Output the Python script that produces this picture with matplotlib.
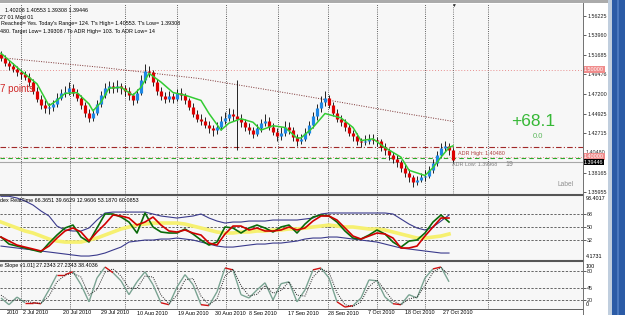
import matplotlib
matplotlib.use("Agg")
import matplotlib.pyplot as plt
from matplotlib.collections import LineCollection
from matplotlib.lines import Line2D
from matplotlib.patches import Rectangle
import matplotlib.transforms as mtrans
import numpy as np

plt.rcParams['font.family'] = ['Liberation Sans', 'DejaVu Sans']

W, H = 625, 315

# ---- price bars (daily, Heiken Ashi style) ----
first_open = 1.518
closes = [1.514, 1.508, 1.504, 1.501, 1.497, 1.495, 1.492, 1.486, 1.476, 1.467,
          1.460, 1.456, 1.457, 1.461, 1.468, 1.473, 1.475, 1.479, 1.474, 1.468,
          1.460, 1.451, 1.445, 1.451, 1.461, 1.471, 1.479, 1.481, 1.479, 1.481,
          1.479, 1.476, 1.471, 1.465, 1.474, 1.488, 1.499, 1.497, 1.486, 1.476,
          1.470, 1.467, 1.470, 1.467, 1.473, 1.471, 1.465, 1.458, 1.450, 1.444,
          1.442, 1.437, 1.433, 1.431, 1.435, 1.442, 1.445, 1.449, 1.447, 1.444,
          1.440, 1.435, 1.431, 1.427, 1.433, 1.439, 1.442, 1.435, 1.429, 1.424,
          1.428, 1.435, 1.431, 1.423, 1.419, 1.421, 1.428, 1.437, 1.447, 1.456,
          1.463, 1.468, 1.460, 1.451, 1.444, 1.440, 1.435, 1.428, 1.424, 1.419,
          1.417, 1.419, 1.421, 1.420, 1.418, 1.412, 1.408, 1.402, 1.398, 1.394,
          1.388, 1.382, 1.377, 1.372, 1.374, 1.377, 1.379, 1.385, 1.393, 1.402,
          1.411, 1.413, 1.408, 1.397]
highs = [1.522, 1.517, 1.511, 1.508, 1.504, 1.501, 1.499, 1.496, 1.489, 1.480,
         1.471, 1.466, 1.462, 1.466, 1.473, 1.478, 1.482, 1.486, 1.484, 1.478,
         1.471, 1.463, 1.455, 1.455, 1.465, 1.476, 1.485, 1.487, 1.486, 1.488,
         1.485, 1.483, 1.480, 1.474, 1.478, 1.494, 1.507, 1.504, 1.500, 1.489,
         1.480, 1.475, 1.476, 1.474, 1.478, 1.479, 1.474, 1.468, 1.462, 1.454,
         1.449, 1.446, 1.441, 1.437, 1.440, 1.447, 1.452, 1.456, 1.455, 1.488,
         1.449, 1.444, 1.439, 1.435, 1.438, 1.444, 1.450, 1.446, 1.439, 1.433,
         1.434, 1.442, 1.440, 1.434, 1.427, 1.427, 1.433, 1.442, 1.452, 1.461,
         1.470, 1.476, 1.471, 1.463, 1.455, 1.448, 1.444, 1.438, 1.431, 1.428,
         1.422, 1.425, 1.426, 1.427, 1.423, 1.421, 1.416, 1.411, 1.406, 1.402,
         1.397, 1.392, 1.386, 1.380, 1.378, 1.382, 1.385, 1.390, 1.398, 1.407,
         1.416, 1.419, 1.416, 1.410]
lows = [1.510, 1.504, 1.500, 1.497, 1.493, 1.490, 1.488, 1.481, 1.472, 1.463,
        1.455, 1.451, 1.450, 1.453, 1.458, 1.465, 1.469, 1.471, 1.470, 1.464,
        1.455, 1.446, 1.440, 1.442, 1.448, 1.458, 1.468, 1.474, 1.473, 1.475,
        1.472, 1.470, 1.466, 1.460, 1.462, 1.471, 1.485, 1.492, 1.482, 1.471,
        1.465, 1.462, 1.463, 1.462, 1.464, 1.466, 1.461, 1.454, 1.446, 1.440,
        1.437, 1.433, 1.428, 1.424, 1.427, 1.431, 1.438, 1.441, 1.442, 1.408,
        1.435, 1.430, 1.426, 1.422, 1.424, 1.429, 1.436, 1.431, 1.425, 1.419,
        1.420, 1.424, 1.426, 1.418, 1.413, 1.415, 1.418, 1.425, 1.433, 1.443,
        1.452, 1.459, 1.456, 1.447, 1.440, 1.436, 1.430, 1.424, 1.419, 1.414,
        1.412, 1.414, 1.415, 1.415, 1.413, 1.407, 1.403, 1.397, 1.393, 1.389,
        1.383, 1.377, 1.371, 1.366, 1.368, 1.371, 1.373, 1.376, 1.382, 1.390,
        1.399, 1.407, 1.403, 1.393]

# green trailing line
ma_idx = [0, 5, 9, 12, 14, 16, 19, 22, 23, 25, 27, 30, 33, 35, 37, 40, 43, 46, 50, 52,
          55, 57, 60, 63, 65, 68, 71, 74, 75, 78, 81, 85, 88, 90, 93, 96, 100, 102, 106,
          108, 110, 112, 113]
ma_val = [1.519, 1.499, 1.484, 1.459, 1.465, 1.473, 1.474, 1.461, 1.453, 1.463, 1.479,
          1.480, 1.471, 1.480, 1.496, 1.486, 1.474, 1.471, 1.465, 1.450, 1.431, 1.439,
          1.444, 1.440, 1.431, 1.436, 1.434, 1.422, 1.422, 1.434, 1.450, 1.445, 1.434,
          1.419, 1.421, 1.411, 1.400, 1.385, 1.379, 1.388, 1.400, 1.411, 1.413]

# dotted long-period line
trend_idx = [-0.25, 24.75, 49.75, 74.75, 99.75, 113]
trend_val = [1.514, 1.503, 1.490, 1.471, 1.451, 1.441]

# ---- RSI panel (every 2nd bar) ----
rsi_upper = [93, 93, 90.6, 86.4, 80.8, 72.5, 65.5, 51.5, 46, 44.6,
             44.6, 48.8, 59.9, 69.7, 71, 71, 71, 71, 71, 68.3,
             65.5, 64.1, 62.7, 64.1, 65.5, 68.3, 62.7, 58.5, 55.7, 57.1,
             57.1, 58.5, 58.5, 58.5, 59.9, 59.9, 59.9, 59.9, 61.3, 62.7,
             68.3, 69.7, 69.7, 69.7, 69.7, 69.7, 69.7, 69.7, 69.7, 68.3,
             61.3, 54.3, 48.8, 46, 50.2, 58.5, 66.9]
rsi_lower = [23.6, 22.2, 20.9, 19.5, 18.1, 16.7, 15.3, 13.9, 12.5, 11.1,
             9.7, 9.7, 11.1, 13.9, 18.1, 22.2, 29.2, 30.6, 32, 32,
             33.4, 33.4, 34.8, 33.4, 32, 29.2, 26.4, 23.6, 22.2, 22.2,
             23.6, 25, 26.4, 26.4, 27.8, 27.8, 29.2, 30.6, 33.4, 34.8,
             34.8, 36.2, 36.2, 34.8, 33.4, 32, 30.6, 29.2, 26.4, 23.6,
             20.9, 19.5, 18.1, 16.7, 15.3, 13.9, 13.9]
rsi_mid = [57.1, 52.9, 48.8, 44.6, 41.8, 37.6, 33.4, 30.6, 29.2, 29.2,
           29.2, 32, 34.8, 39, 43.2, 47.4, 50.2, 52.9, 54.3, 55.7,
           55.7, 55.7, 55.7, 54.3, 51.5, 48.8, 46, 43.2, 41.8, 41.8,
           43.2, 43.2, 44.6, 44.6, 46, 46, 47.4, 47.4, 48.8, 50.2,
           51.5, 52.9, 51.5, 50.2, 50.2, 48.8, 47.4, 47.4, 46, 43.2,
           40.4, 37.6, 34.8, 34.8, 36.2, 37.6, 40.4]
rsi_fast = [36.2, 26.4, 23.6, 20.9, 18.1, 15.3, 27.8, 39, 48.8, 52.9,
            36.2, 29.2, 48.8, 68.3, 68.3, 64.1, 57.1, 41.8, 69.7, 50.2,
            43.2, 41.8, 41.8, 47.4, 40.4, 32, 25, 29.2, 50.2, 48.8,
            41.8, 48.8, 52.9, 48.8, 43.2, 50.2, 52.9, 41.8, 54.3, 64.1,
            66.9, 65.5, 57.1, 44.6, 34.8, 33.4, 39, 46, 40.4, 29.2,
            22.2, 30.6, 32, 41.8, 57.1, 66.9, 57.1]
rsi_slow = [36.2, 30.6, 25, 22.2, 19.5, 16.7, 23.6, 34.8, 44.6, 48.8,
            43.2, 30.6, 43.2, 54.3, 66.9, 65.5, 62.7, 52.9, 57.1, 64.1,
            52.9, 44.6, 43.2, 46, 41.8, 39, 27.8, 25, 40.4, 51.5,
            51.5, 46, 48.8, 44.6, 44.6, 46, 50.2, 46, 48.8, 58.5,
            65.5, 65.5, 59.9, 48.8, 37.6, 33.4, 37.6, 41.8, 40.4, 34.8,
            20.9, 20.9, 23.6, 37.6, 50.2, 62.7, 62.7]

# ---- slope panel (every 2nd bar) ----
slope_main = [24, 10, 26, 14, 14, 12, 41, 73, 73, 79,
              52, 16, 66, 89, 77, 60, 31, 58, 79, 52,
              14, 10, 47, 73, 52, 10, 8, 37, 87, 83,
              31, 24, 41, 56, 20, 54, 58, 16, 41, 83,
              87, 66, 16, 5, 8, 24, 62, 60, 26, 12,
              10, 31, 24, 66, 85, 89, 58]
slope_signal = [30, 18, 20, 18, 14, 13, 28, 58, 72, 76,
                68, 30, 42, 78, 85, 70, 45, 44, 70, 68,
                30, 12, 30, 62, 65, 28, 10, 22, 70, 85,
                50, 28, 32, 50, 34, 40, 58, 30, 28, 68,
                85, 78, 35, 10, 6, 16, 48, 62, 40, 18,
                10, 22, 26, 50, 78, 88, 72]

price_ticks = [1.56225, 1.53960, 1.51685, 1.49476, 1.47200, 1.44925, 1.42715, 1.38165, 1.35955]
date_labels = ["2010", "2 Jul 2010", "20 Jul 2010", "29 Jul 2010", "10 Aug 2010",
               "19 Aug 2010", "30 Aug 2010", "8 Sep 2010", "17 Sep 2010", "28 Sep 2010",
               "7 Oct 2010", "18 Oct 2010", "27 Oct 2010"]
date_px = [7, 23, 63, 101, 137, 178, 215, 249, 288, 328, 368, 405, 443]
grid_px = [21, 70, 125, 177, 226, 278, 328, 377, 425, 488]

fig = plt.figure(figsize=(W / 100, H / 100), dpi=100)
fig.patch.set_facecolor('white')


def box(x0, y0, x1, y1):
    return [x0 / W, 1 - y1 / H, (x1 - x0) / W, (y1 - y0) / H]


def ftext(x, y, s, **kw):
    kw.setdefault('fontsize', 3.9)
    kw.setdefault('va', 'center')
    fig.text(x / W, 1 - y / H, s, **kw)


def fline(x0, y0, x1, y1, **kw):
    fig.add_artist(Line2D([x0 / W, x1 / W], [1 - y0 / H, 1 - y1 / H], **kw))


def px_to_idx(x):
    return (x - 1) / 4.0


ax = fig.add_axes(box(0, 4, 583, 194))
ax1 = fig.add_axes(box(0, 196, 583, 260))
ax2 = fig.add_axes(box(0, 262, 583, 308.5))

for a in (ax, ax1, ax2):
    a.set_facecolor('#F7F7F7')
    a.set_xlim(-0.25, 145.5)
    a.set_xticks([])
    for s in a.spines.values():
        s.set_visible(False)
    for gx in grid_px:
        a.axvline(px_to_idx(gx), color='#303030', ls=(0, (1, 1.6)), lw=0.6, zorder=1)

ax.set_ylim(1.35783, 1.57542)
ax1.set_ylim(4.1731, 93.4017)
ax2.set_ylim(2.0, 99.5)

# ---- main panel ----
idx = np.arange(len(closes))
opens = [first_open] + closes[:-1]
body_col = ['#1E88E5' if c >= o else '#DD0000' for o, c in zip(opens, closes)]
ax.axhline(1.5, color='#E89090', ls=(0, (1, 2)), lw=0.7, zorder=1)
ax.axhline(1.4115, color='#A02828', ls=(0, (5, 2, 1, 2)), lw=0.8, zorder=1)
ax.axhline(1.4000, color='#E89090', ls=(0, (1, 2)), lw=0.7, zorder=1)
ax.axhline(1.3985, color='#2AA82A', ls=(0, (4, 3)), lw=0.8, zorder=1)
ax.axhline(1.39446, color='#A8A8A8', lw=0.8, zorder=1)
ax.axvline(113, color='#505050', ls=(0, (1, 1.6)), lw=0.6, zorder=1)
ax.plot(trend_idx, trend_val, color='#7A3030', ls=(0, (1, 1.5)), lw=0.7, zorder=2)
ax.vlines(idx, lows, highs, color='black', lw=0.6, zorder=3)
ax.vlines(idx, opens, closes, colors=body_col, lw=2.3, zorder=4)
ax.plot(ma_idx, ma_val, color='#33CC33', lw=1.1, zorder=5)
ax.set_yticks(price_ticks)
ax.set_yticklabels(['%.5f' % p for p in price_ticks])
ax.yaxis.tick_right()
ax.tick_params(axis='y', length=2, width=0.5, pad=1, labelsize=3.9, colors='#202020')

blend = mtrans.blended_transform_factory(ax.transAxes, ax.transData)
ax.text(1.0015, 1.5, '1.50000', transform=blend, fontsize=3.9, color='white', va='center',
        bbox=dict(boxstyle='square,pad=0.18', fc='#F08C8C', ec='none'), zorder=6, clip_on=False)
ax.text(1.0045, 1.4052, '1.40480', transform=blend, fontsize=3.9, color='#303030', va='center',
        zorder=6, clip_on=False)
ax.text(1.0015, 1.4004, '1.40000', transform=blend, fontsize=3.9, color='white', va='center',
        bbox=dict(boxstyle='square,pad=0.18', fc='#F08C8C', ec='none'), zorder=7, clip_on=False)
ax.text(1.0015, 1.39446, '1.39446', transform=blend, fontsize=3.9, color='white', va='center',
        bbox=dict(boxstyle='square,pad=0.18', fc='black', ec='none'), zorder=8, clip_on=False)

# ---- RSI panel ----
g = np.arange(0, 114, 2)
for lv in (68, 50, 32):
    ax1.axhline(lv, color='#404040', ls=(0, (3, 2)), lw=0.55, zorder=1)
ax1.plot(g, rsi_mid, color='#F6F070', lw=2.6, zorder=2)
ax1.plot(g, rsi_upper, color='#3A3A8C', lw=0.8, zorder=3)
ax1.plot(g, rsi_lower, color='#3A3A8C', lw=0.8, zorder=3)
ax1.plot(g, rsi_fast, color='#0A6A0A', lw=1.2, zorder=4)
ax1.plot(g, rsi_slow, color='#D00000', lw=1.2, zorder=5)
ax1.set_yticks([68, 50, 32])
ax1.set_yticklabels(['68', '50', '32'])
ax1.yaxis.tick_right()
ax1.tick_params(axis='y', length=2, width=0.5, pad=1, labelsize=3.9, colors='#202020')

# ---- slope panel ----
for lv in (80, 45, 20):
    ax2.axhline(lv, color='#404040', ls=(0, (3, 2)), lw=0.55, zorder=1)
pts = np.column_stack([g, slope_main])
segs = np.stack([pts[:-1], pts[1:]], axis=1)
seg_col = []
for a, b in zip(slope_main[:-1], slope_main[1:]):
    seg_col.append('#D01010' if min(a, b) > 70 or max(a, b) < 18 else '#7AA392')
ax2.add_collection(LineCollection(segs, colors=seg_col, lw=1.0, zorder=3))
ax2.plot(g, slope_signal, color='#202020', ls=(0, (1, 1.3)), lw=0.7, zorder=4)
ax2.set_yticks([80, 45, 20])
ax2.set_yticklabels(['80', '45', '20'])
ax2.yaxis.tick_right()
ax2.tick_params(axis='y', length=2, width=0.5, pad=1, labelsize=3.9, colors='#202020')

# ---- frame pieces ----
fig.add_artist(Rectangle((0, 1 - 3 / H), 608 / W, 3 / H, transform=fig.transFigure,
                         fc='#ABABAB', ec='none'))
fig.add_artist(Rectangle((608 / W, 0), 4 / W, 1, transform=fig.transFigure, fc='#C0CEDE', ec='none'))
fig.add_artist(Rectangle((612 / W, 0), 13 / W, 1, transform=fig.transFigure, fc='#2B5BA6', ec='none'))
fig.add_artist(Rectangle((617 / W, 0), 2 / W, 1, transform=fig.transFigure, fc='#4A78BE', ec='none'))
fline(0, 195, 583, 195, color='#555555', lw=1.5)
fline(0, 261, 583, 261, color='#555555', lw=1.5)
fline(0, 308.7, 583, 308.7, color='#606060', lw=0.7)
fline(583, 3, 583, 315, color='#707070', lw=0.7)
ftext(453, 5, '\u25BC', fontsize=3.5, ha='center', color='#303030')

# ---- texts ----
ftext(5, 10, '1.40208 1.40553 1.39308 1.39446')
ftext(0, 17, '27 01 Mqd 01')
ftext(1, 24, "Reached= Yes. Today's Range= 124. T's High= 1.40553. T's Low= 1.39308")
ftext(0, 31, '480. Target Low= 1.39308 / To ADR High= 103. To ADR Low= 14')
ftext(0, 89, '7 points', fontsize=7, color='#D02828')
ftext(511, 121, '+68.1', fontsize=12.5, color='#36B836')
ftext(533, 137, '0.0', fontsize=5.5, color='#5CB85C')
ftext(558, 185, 'Label', fontsize=4.8, color='#909090')
ftext(458, 153, 'ADR High: 1.40480', color='#B04040')
ftext(452, 164, 'ADR Low: 1.39968', color='#808080')
ftext(505, 165, '19', fontsize=5, color='#808080')
ftext(0, 200, 'dex RealTime 66.3651 39.6629 12.9606 53.1870 60.0853')
ftext(0, 266, 'e Slope v1.01] 27.2343 27.2343 38.4036')
ftext(586, 199, '93.4017')
ftext(586, 256, '4.1731')
ftext(586, 266, '100')
ftext(586, 305, '0')
for dx, lab in zip(date_px, date_labels):
    ftext(dx, 310.5, lab, va='top')

fig.savefig('out.png', dpi=100)
